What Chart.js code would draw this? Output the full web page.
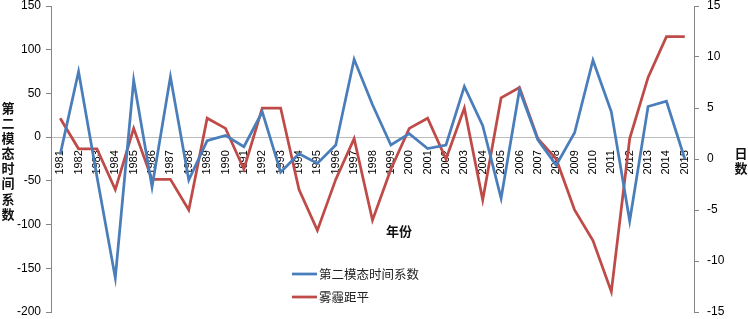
<!DOCTYPE html>
<html>
<head>
<meta charset="utf-8">
<script src="https://cdn.jsdelivr.net/npm/chart.js@4/dist/chart.umd.min.js"></script>
<style>
  html, body { margin: 0; padding: 0; background: #fff; }
  #wrap { width: 748px; height: 319px; position: relative; }
</style>
</head>
<body>
<div id="wrap"><canvas id="chart"></canvas></div>
<script>
// values
const years = [
  "1981", "1982", "1983", "1984", "1985", "1986", "1987", "1988", "1989", "1990",
  "1991", "1992", "1993", "1994", "1995", "1996", "1997", "1998", "1999", "2000",
  "2001", "2002", "2003", "2004", "2005", "2006", "2007", "2008", "2009", "2010",
  "2011", "2012", "2013", "2014", "2015"
];
const modeTwoCoef = [
  -20, 75, -45, -161, 65, -57, 69, -49, -4, 2,
  -11, 29, -40, -19, -30, -9, 89, 37, -9, 4,
  -13, -9, 58, 13, -70, 54, -3, -32, 5, 88,
  29, -96, 35, 41, -25
];
const hazeAnomaly = [
  4, 1, 1, -3, 3, -2, -2, -5, 4, 3,
  -1, 5, 5, -3, -7, -2, 2, -6, -1, 3,
  4, 0, 5, -4, 6, 7, 2, 0, -5, -8,
  -13, 2, 8, 12, 12
];
const leftTicks = { min: -200, max: 150, step: 50 };
const rightTicks = { min: -15, max: 15, step: 5 };

const leftTitle = "第二模态时间系数";
const rightTitle = "日数";
const xTitle = "年份";

const BLUE = "#4a7ebb";
const RED = "#be4b48";
const AXIS = "#868686";
const CJK = "'Noto Sans CJK SC', 'Liberation Sans', sans-serif";
const LATIN = "'Liberation Sans', Arial, sans-serif";

// titles and the vertical legend are drawn by hand
const decorations = {
  id: "decorations",
  afterDraw(chart) {
    const ctx = chart.ctx;
    ctx.save();
    ctx.fillStyle = "#111";
    ctx.textAlign = "center";
    ctx.textBaseline = "middle";
    ctx.font = "bold 13px " + CJK;
    [...leftTitle].forEach((ch, i) => ctx.fillText(ch, 8, 108 + i * 15.1));
    [...rightTitle].forEach((ch, i) => ctx.fillText(ch, 741, 153 + i * 15.5));
    ctx.fillText(xTitle, 399, 231);

    ctx.font = "12.5px " + CJK;
    ctx.textAlign = "left";
    chart.data.datasets.forEach((ds, i) => {
      const y = 274 + i * 23;
      ctx.strokeStyle = ds.borderColor;
      ctx.lineWidth = 2.75;
      ctx.beginPath();
      ctx.moveTo(292, y);
      ctx.lineTo(317, y);
      ctx.stroke();
      ctx.fillStyle = "#222";
      ctx.fillText(ds.label, 319, y + 0.5);
    });
    ctx.restore();
  }
};

new Chart(document.getElementById("chart"), {
  type: "line",
  data: {
    labels: years,
    datasets: [
      {
        label: "第二模态时间系数",
        data: modeTwoCoef,
        yAxisID: "y",
        borderColor: BLUE,
        backgroundColor: BLUE,
        borderWidth: 2.75,
        pointRadius: 0,
        tension: 0
      },
      {
        label: "雾霾距平",
        data: hazeAnomaly,
        yAxisID: "y1",
        borderColor: RED,
        backgroundColor: RED,
        borderWidth: 2.75,
        pointRadius: 0,
        tension: 0
      }
    ]
  },
  options: {
    responsive: true,
    maintainAspectRatio: false,
    animation: false,
    layout: { padding: { left: 0, right: 0, top: 6, bottom: 7 } },
    plugins: {
      legend: { display: false },
      tooltip: { enabled: false }
    },
    scales: {
      x: {
        type: "category",
        position: { y: 0 },
        offset: true,
        grid: { display: false, drawTicks: false },
        border: { display: true, color: "#bcbcbc", width: 1 },
        ticks: {
          minRotation: 90,
          maxRotation: 90,
          autoSkip: false,
          padding: 13,
          color: "#000",
          font: { family: LATIN, size: 11 }
        },
        afterFit(s) { s.paddingLeft = 0; s.paddingRight = 0; }
      },
      y: {
        position: "left",
        min: leftTicks.min,
        max: leftTicks.max,
        ticks: {
          stepSize: leftTicks.step,
          padding: 5,
          color: "#000",
          font: { family: LATIN, size: 12 }
        },
        grid: { drawOnChartArea: false, drawTicks: true, tickLength: 5, color: AXIS },
        border: { display: true, color: AXIS, width: 1 },
        afterFit(s) { s.width = 51; s.paddingTop = 0; s.paddingBottom = 0; }
      },
      y1: {
        position: "right",
        min: rightTicks.min,
        max: rightTicks.max,
        ticks: {
          stepSize: rightTicks.step,
          padding: 8,
          color: "#000",
          font: { family: LATIN, size: 12 }
        },
        grid: { drawOnChartArea: false, drawTicks: true, tickLength: 5, color: AXIS },
        border: { display: true, color: AXIS, width: 1 },
        afterFit(s) { s.width = 54; s.paddingTop = 0; s.paddingBottom = 0; }
      }
    }
  },
  plugins: [decorations]
});
</script>
</body>
</html>
